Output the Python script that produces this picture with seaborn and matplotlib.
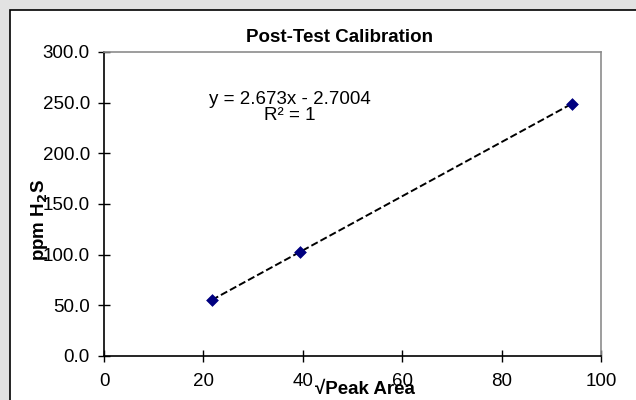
import numpy as np
import pandas as pd
import matplotlib
matplotlib.use("Agg")
import matplotlib.pyplot as plt
from matplotlib.patches import Rectangle
import seaborn as sns

# dati di calibrazione
peak_area_sqrt = [21.7, 39.5, 94.2]
ppm_h2s = [55.3, 102.9, 249.1]
slope = 2.673
intercept = -2.7004
x_ticks = [0, 20, 40, 60, 80, 100]
y_ticks = [0, 50, 100, 150, 200, 250, 300]

sns.set_style("white")
plt.rcParams['font.family'] = ['Liberation Sans', 'DejaVu Sans']
plt.rcParams['text.color'] = 'black'
plt.rcParams['xtick.color'] = 'black'
plt.rcParams['ytick.color'] = 'black'
plt.rcParams['axes.labelcolor'] = 'black'

df = pd.DataFrame({'x': peak_area_sqrt, 'y': ppm_h2s})
fit = pd.DataFrame({'x': [min(peak_area_sqrt), max(peak_area_sqrt)]})
fit['y'] = slope * fit['x'] + intercept

fig = plt.figure(figsize=(6.36, 4.0), dpi=100, facecolor='#e2e2e2')
# cornice bianca del grafico
fig.patches.append(Rectangle((10 / 636, -0.1), 1.0, (390 / 400) + 0.1,
                             transform=fig.transFigure, facecolor='white',
                             edgecolor='black', linewidth=1.2, zorder=-1))

ax = fig.add_axes([104 / 636, 44 / 400, 497 / 636, 304 / 400])
ax.set_zorder(2)
ax.set_facecolor('white')

sns.lineplot(data=fit, x='x', y='y', ax=ax, color='black', linestyle='--',
             linewidth=1.4, dashes=(4, 3))
sns.scatterplot(data=df, x='x', y='y', ax=ax, marker='D', color='#000080',
                s=36, edgecolor='#000080', zorder=3)

ax.set_xlim(0, 100)
ax.set_ylim(0, 300)
ax.set_xticks(x_ticks)
ax.set_yticks(y_ticks)
ax.set_yticklabels([f"{v:.1f}" for v in y_ticks])
ax.tick_params(axis='both', direction='inout', length=8.5, width=1,
               labelsize=13.5, color='black', left=True, bottom=True)
ax.tick_params(axis='x', pad=8)
ax.tick_params(axis='y', pad=6)
ax.set_xlabel('')
ax.set_ylabel('')

for s in ['left', 'bottom']:
    ax.spines[s].set_color('black')
    ax.spines[s].set_linewidth(1.2)
for s in ['top', 'right']:
    ax.spines[s].set_color('#8c8c8c')
    ax.spines[s].set_linewidth(1.2)

fig.text(340 / 636, 1 - 37 / 400, 'Post-Test Calibration', ha='center',
         va='center', fontsize=13.5, fontweight='bold', zorder=5)
fig.text(40 / 636, 1 - 220 / 400, 'ppm H$_\\mathbf{2}$S', rotation=90,
         ha='center', va='center', fontsize=13.5, fontweight='bold', zorder=5)
fig.text(365 / 636, 1 - 390 / 400, '√Peak Area', ha='center', va='center',
         fontsize=13.5, fontweight='bold', zorder=5)
fig.text(290 / 636, 1 - 99 / 400, 'y = 2.673x - 2.7004', ha='center',
         va='center', fontsize=13.5, zorder=5)
fig.text(290 / 636, 1 - 116 / 400, 'R² = 1', ha='center', va='center',
         fontsize=13.5, zorder=5)

fig.savefig('out.png', dpi=100, facecolor=fig.get_facecolor())
